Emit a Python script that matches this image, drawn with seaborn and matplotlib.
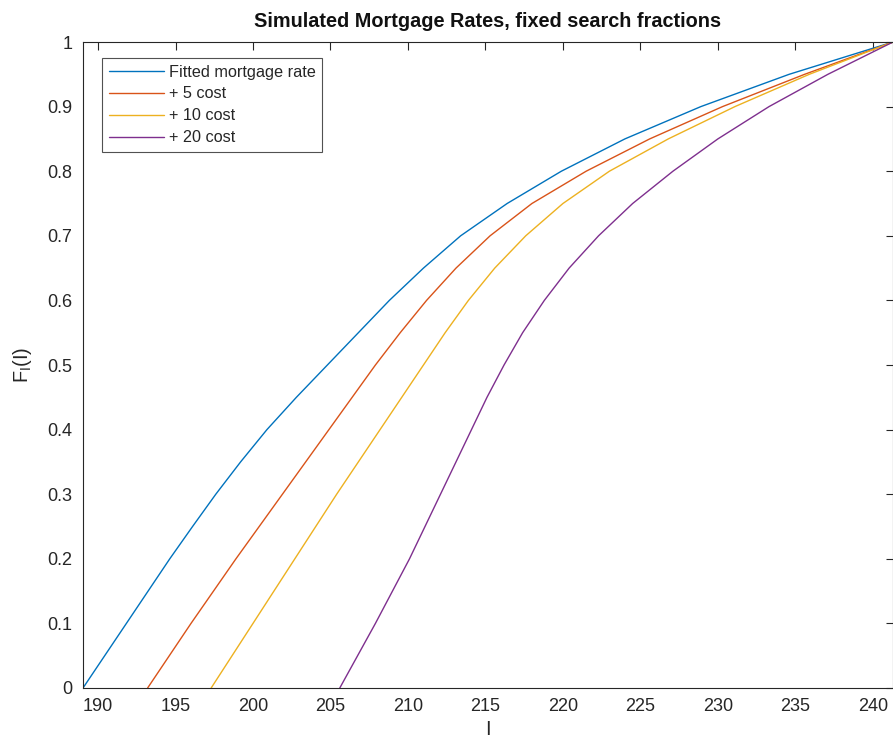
import numpy as np
import pandas as pd
import matplotlib
matplotlib.use("Agg")
import matplotlib.pyplot as plt
import seaborn as sns

# ---- data ----
F_levels = [0, 0.05, 0.1, 0.15, 0.2, 0.25, 0.3, 0.35, 0.4, 0.45, 0.5,
            0.55, 0.6, 0.65, 0.7, 0.75, 0.8, 0.85, 0.9, 0.95, 1.0]
x_fitted = [189.03, 190.43, 191.83, 193.23, 194.63, 196.1, 197.6, 199.2, 200.9, 202.8, 204.8,
            206.8, 208.8, 211.0, 213.4, 216.4, 219.9, 224.0, 228.9, 234.6, 241.3]
x_cost5 = [193.2, 194.6, 196.0, 197.45, 198.9, 200.4, 201.9, 203.4, 204.9, 206.4, 207.9,
           209.5, 211.2, 213.1, 215.3, 218.0, 221.5, 225.6, 230.3, 235.6, 241.3]
x_cost10 = [197.3, 198.65, 200.0, 201.35, 202.7, 204.05, 205.4, 206.8, 208.2, 209.6, 211.0,
            212.4, 213.9, 215.6, 217.6, 220.0, 223.0, 226.8, 231.1, 235.9, 241.3]
x_cost20 = [205.6, 206.75, 207.9, 209.0, 210.1, 211.1, 212.1, 213.1, 214.1, 215.1, 216.2,
            217.4, 218.8, 220.4, 222.3, 224.5, 227.1, 230.0, 233.3, 237.1, 241.3]
series_names = ["Fitted mortgage rate", "+ 5 cost", "+ 10 cost", "+ 20 cost"]
colors = ["#0072BD", "#D95319", "#EDB120", "#7E2F8E"]
x_ticks = [190, 195, 200, 205, 210, 215, 220, 225, 230, 235, 240]
y_ticks = [0, 0.1, 0.2, 0.3, 0.4, 0.5, 0.6, 0.7, 0.8, 0.9, 1]
y_tick_labels = ["0", "0.1", "0.2", "0.3", "0.4", "0.5", "0.6", "0.7", "0.8", "0.9", "1"]
title = "Simulated Mortgage Rates, fixed search fractions"

frames = []
for name, xs in zip(series_names, [x_fitted, x_cost5, x_cost10, x_cost20]):
    frames.append(pd.DataFrame({"I": xs, "F": F_levels, "series": name}))
df = pd.concat(frames, ignore_index=True)

sns.set_style("white")
plt.rcParams["font.family"] = ["Liberation Sans", "DejaVu Sans"]
plt.rcParams["mathtext.fontset"] = "custom"
plt.rcParams["mathtext.rm"] = "Liberation Sans"

fig = plt.figure(figsize=(8.93, 7.40), dpi=100)
ax = fig.add_axes([83 / 893, 52 / 740, 810 / 893, 646 / 740])

sns.lineplot(data=df, x="I", y="F", hue="series", hue_order=series_names,
             palette=colors, estimator=None, sort=False, linewidth=1.0,
             legend=False, ax=ax)
for ln in ax.lines:
    ln.set_solid_joinstyle("round")

ax.set_xlim(189.03, 241.3)
ax.set_ylim(0, 1)
ax.set_xticks(x_ticks)
ax.set_xticklabels([str(t) for t in x_ticks])
ax.set_yticks(y_ticks)
ax.set_yticklabels(y_tick_labels)

dark = "#262626"
for s in ax.spines.values():
    s.set_visible(True)
    s.set_color(dark)
    s.set_linewidth(0.8)
ax.tick_params(direction="in", length=5.4, width=0.8, colors=dark,
               labelsize=13, top=True, right=True)
ax.tick_params(axis="x", pad=7.5)
ax.tick_params(axis="y", pad=7.5)
ax.tick_params(axis="both", labelcolor=dark)

ax.set_title(title, fontsize=14.3, fontweight="bold", color="#111111", pad=11)
ax.set_xlabel("I", fontsize=14.3, color=dark, labelpad=3)
ax.set_ylabel(r"F$_{\mathregular{I}}$(I)", fontsize=14.3, color=dark, labelpad=10)

leg = ax.legend(handles=ax.lines[:4], labels=series_names, loc="upper left",
                bbox_to_anchor=(19 / 810, (688 - 58) / 646), borderaxespad=0,
                fontsize=11.7, handlelength=3.4, handletextpad=0.3,
                labelspacing=0.43, borderpad=0.4, frameon=True, fancybox=False)
leg.get_frame().set_edgecolor(dark)
leg.get_frame().set_linewidth(0.8)
for t in leg.get_texts():
    t.set_color(dark)

fig.savefig("out.png", dpi=100, facecolor="white")
